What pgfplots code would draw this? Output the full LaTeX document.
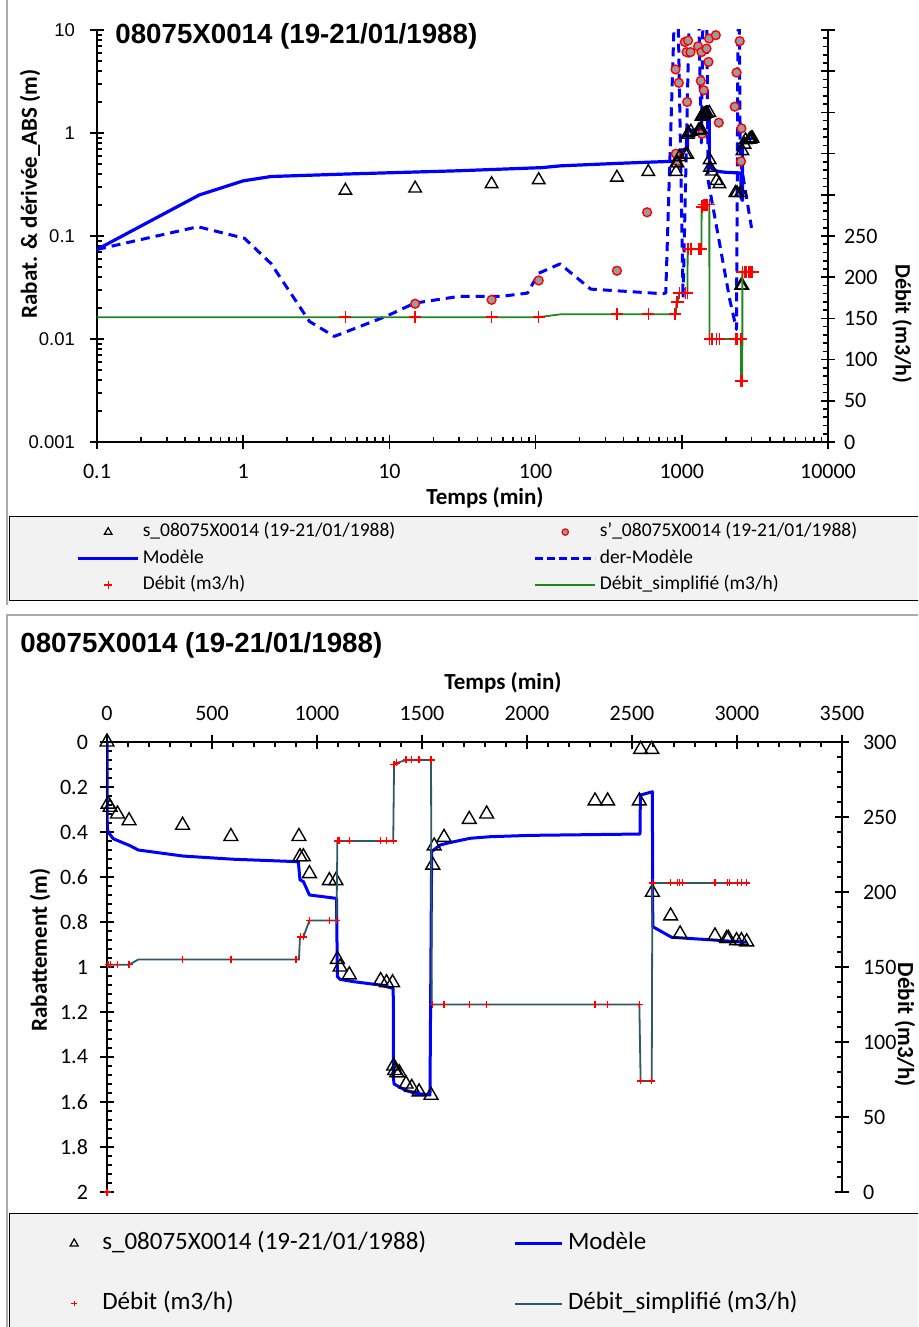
\documentclass[border=0pt]{standalone}
\usepackage{pgfplots}
\pgfplotsset{compat=1.18}
\usepackage{pgfplotstable}
\usepackage{fontspec}
\setmainfont{Carlito}
\newfontfamily\arialfont{Liberation Sans}

\definecolor{flowgreen}{RGB}{30,135,30}
\definecolor{flowteal}{RGB}{49,89,99}
\definecolor{legfill}{RGB}{242,242,242}
\definecolor{framegray}{RGB}{170,170,170}
\definecolor{circfill}{RGB}{155,155,155}

% observed drawdown s
\pgfplotstableread{
t s
5 0.276
15 0.29
50 0.32
105 0.35
360 0.37
590 0.42
914 0.42
919 0.51
935 0.51
964 0.585
1059 0.616
1090 0.616
1097 0.966
1110 1.0
1154 1.035
1303 1.06
1331 1.07
1360 1.07
1365 1.44
1370 1.46
1380 1.47
1392 1.47
1424 1.52
1451 1.535
1486 1.555
1543 1.57
1551 0.547
1558 0.462
1605 0.424
1725 0.344
1808 0.32
2324 0.262
2384 0.262
2535 0.262
2541 0.033
2594 0.033
2597 0.668
2684 0.773
2729 0.853
2895 0.862
2951 0.873
2959 0.873
2998 0.883
3021 0.883
3046 0.888
}\obsS

% observed derivative s'
\pgfplotstableread{
t d
15 0.022
50 0.024
105 0.037
360 0.046
579 0.17
906 4.14
910 0.63
929 0.53
954 3.07
1048 7.65
1077 6.1
1087 2.0
1104 7.9
1147 6.1
1292 6.94
1348 3.21
1363 6.1
1376 0.98
1414 2.6
1476 6.6
1522 4.9
1537 8.26
1708 8.9
1790 1.26
2300 1.8
2367 3.86
2490 7.8
2542 0.53
2557 1.11
}\obsD

% model
\pgfplotstableread{
t s
0.1 0.074
0.5 0.25
1.0 0.343
1.55 0.378
5.2 0.40
30 0.43
110 0.461
149 0.48
363 0.507
601 0.521
911 0.532
919 0.613
935 0.62
964 0.68
1093 0.695
1097 1.043
1110 1.055
1173 1.065
1300 1.08
1363 1.095
1364 1.495
1367 1.52
1419 1.547
1467 1.561
1538 1.569
1546 0.487
1586 0.458
1633 0.447
1729 0.428
1824 0.421
2014 0.415
2538 0.409
2540 0.236
2597 0.221
2599 0.821
2689 0.868
2887 0.88
3046 0.89
}\model

% model derivative
\pgfplotstableread{
t d
0.1 0.074
0.49 0.123
1.02 0.095
1.55 0.054
2.84 0.0148
4.2 0.0106
9.5 0.0166
14.9 0.0223
29.8 0.0259
57.7 0.0259
88 0.0279
105 0.0435
147 0.0536
238 0.0305
746 0.0275
777 0.028
896 20
940 20
1020 0.025
1130 20
1300 20
1360 0.8
1400 20
1480 20
1512 0.35
2130 0.024
2366 0.0124
2430 20
2470 20
2510 0.55
3000 0.12
}\derModel

% flow rate (measured)
\pgfplotstableread{
t q
5 151.5
15 151.5
50 151.5
105 151.5
360 155
590 155
900 155
920 170
935 170
964 181
1059 181
1093 181
1097 234
1105 234
1154 234
1303 234
1331 234
1363 234
1365 285
1370 285
1380 286
1424 288
1451 288
1486 288
1543 288
1551 125
1605 125
1725 125
1808 125
2324 125
2384 125
2535 125
2541 74
2594 74
2597 206
2684 206
2717 206
2728 206
2740 206
2895 206
2954 206
2964 206
3002 206
3021 206
3046 206
}\debit

% simplified flow rate
\pgfplotstableread{
t q
0.1 151.5
105 151.5
149 155
914 155
919 170
935 170
964 181
1093 181
1097 234
1363 234
1367 285
1380 286
1424 288
1543 288
1546 125
2535 125
2541 74
2594 74
2597 206
3046 206
}\debitSimp

\pgfplotsset{
  myticks/.style={
    tick align=center,
    major tick length=7pt,
    minor tick length=2.5pt,
    major tick style={black, line width=0.8pt},
    minor tick style={black, line width=0.8pt},
  },
  mylegimg/.style={
    legend image code/.code={\path (0pt,0pt) (2*#1,0pt);\draw[mark repeat=2,mark phase=2,##1] plot coordinates {(0pt,0pt) (#1,0pt) (2*#1,0pt)};}
  },
}

\begin{document}
\begin{tikzpicture}
\path[use as bounding box, fill=white] (0,0) rectangle (459pt,663.5pt);
\clip (0,0) rectangle (459pt,663.5pt);
\draw[framegray, line width=0.8pt] (3.5pt,663.5pt) -- (3.5pt,361pt);
\draw[framegray, line width=0.8pt] (459pt,356pt) -- (3.5pt,356pt) -- (3.5pt,0pt);

%================ TOP CHART =================
\begin{axis}[
  myticks,
  at={(48.5pt,442.5pt)}, anchor=south west,
  scale only axis, width=365.5pt, height=206pt,
  xmode=log, ymode=log,
  xmin=0.1, xmax=10000, ymin=0.001, ymax=10,
  axis x line=bottom, axis y line=left,
  axis line style={-, line width=0.8pt, black},
  xtick={0.1,1,10,100,1000,10000},
  xticklabels={0.1,1,10,100,1000,10000},
  ytick={0.001,0.01,0.1,1,10},
  yticklabels={0.001,0.01,0.1,1,10},
  minor x tick style={yshift=1.25pt},
  minor y tick style={xshift=1.25pt},
  xticklabel style={font=\fontsize{11}{13}\selectfont, yshift=-4pt},
  yticklabel style={font=\arialfont\fontsize{9.25}{11}\selectfont, xshift=-4pt},
  clip mode=individual,
]
\addplot[blue, line width=1.6pt, line join=round, forget plot] table[x=t,y=s] {\model};
\addplot[blue, line width=1.5pt, dash pattern=on 4.5pt off 3pt, line join=round, forget plot] table[x=t,y=d] {\derModel};
\addplot[only marks, mark=*, mark size=2.2pt, mark options={draw=red, fill=circfill, line width=0.7pt}, forget plot] table[x=t,y=d] {\obsD};
\addplot[only marks, mark=triangle, mark size=3.6pt, mark options={draw=black, line width=0.7pt}, forget plot] table[x=t,y=s] {\obsS};
\end{axis}

\begin{axis}[
  myticks, mylegimg=15pt,
  at={(48.5pt,442.5pt)}, anchor=south west,
  scale only axis, width=365.5pt, height=206pt,
  xmode=log, xmin=0.1, xmax=10000, ymin=0, ymax=500,
  axis x line=none, axis y line=right,
  axis line style={-, line width=0.8pt, black},
  ytick={0,50,100,150,200,250,300,350,400,450,500},
  yticklabels={0,50,100,150,200,250,{},{},{},{},{}},
  minor y tick num=4,
  minor y tick style={xshift=-1.25pt},
  yticklabel style={font=\fontsize{11}{13}\selectfont, xshift=1pt},
  clip mode=individual,
  legend columns=2,
  legend cell align=left,
  legend style={
    at={(-0.1204,-0.1796)}, anchor=north west,
    draw=black, line width=0.6pt, fill=legfill,
    inner xsep=33.5pt, inner ysep=3pt,
    font=\fontsize{9.75}{11}\selectfont,
    nodes={inner sep=0pt, text height=7pt, text depth=2.5pt},
    row sep=3.75pt,
    /tikz/every odd column/.append style={column sep=1.5pt},
    /tikz/every even column/.append style={column sep=0pt},
  },
]
\addplot[flowgreen, line width=0.9pt, forget plot] table[x=t,y=q] {\debitSimp};
\addplot[only marks, mark=+, mark size=3pt, mark options={red, line width=0.8pt}, forget plot] table[x=t,y=q] {\debit};
\addlegendimage{only marks, mark=triangle, mark size=2.2pt, mark options={black, line width=0.6pt}}
\addlegendentry{\makebox[195.5pt][l]{s\_08075X0014 (19-21/01/1988)}}
\addlegendimage{only marks, mark=*, mark size=1.6pt, mark options={draw=red, fill=circfill, line width=0.6pt}}
\addlegendentry{\makebox[170pt][l]{s'\_08075X0014 (19-21/01/1988)}}
\addlegendimage{blue, line width=1.6pt}
\addlegendentry{Modèle}
\addlegendimage{blue, line width=1.5pt, dash pattern=on 4pt off 2pt}
\addlegendentry{der-Modèle}
\addlegendimage{only marks, mark=+, mark size=2pt, mark options={red, line width=0.6pt}}
\addlegendentry{Débit (m3/h)}
\addlegendimage{flowgreen, line width=0.9pt}
\addlegendentry{Débit\_simplifié (m3/h)}
\end{axis}

\node[anchor=base west, inner sep=0pt, font=\arialfont\bfseries\fontsize{13.85}{16}\selectfont] at (57.5pt,641.5pt) {08075X0014 (19-21/01/1988)};
\node[rotate=90, font=\bfseries\fontsize{11.5}{13}\selectfont] at (15pt,566.5pt) {Rabat. \& dérivée\_ABS (m)};
\node[rotate=-90, font=\bfseries\fontsize{11}{13}\selectfont] at (451pt,501.5pt) {Débit (m3/h)};
\node[font=\bfseries\fontsize{11.5}{13}\selectfont] at (242.5pt,414.5pt) {Temps (min)};

%================ BOTTOM CHART =================
\begin{axis}[
  myticks,
  at={(53.5pt,67.5pt)}, anchor=south west,
  scale only axis, width=367.5pt, height=225pt,
  xmin=0, xmax=3500, ymin=0, ymax=2, y dir=reverse,
  axis x line=top, axis y line=left,
  axis line style={-, line width=0.8pt, black},
  xtick={0,500,1000,1500,2000,2500,3000,3500},
  xticklabels={0,500,1000,1500,2000,2500,3000,3500},
  minor x tick num=4,
  ytick={0,0.2,0.4,0.6,0.8,1,1.2,1.4,1.6,1.8,2},
  yticklabels={0,0.2,0.4,0.6,0.8,1,1.2,1.4,1.6,1.8,2},
  minor y tick num=4,
  minor x tick style={yshift=-1.25pt},
  minor y tick style={xshift=1.25pt},
  xticklabel style={font=\fontsize{11}{13}\selectfont, yshift=3.5pt},
  yticklabel style={font=\fontsize{11}{13}\selectfont, xshift=-2.5pt},
  clip mode=individual,
]
\addplot[blue, line width=1.5pt, line join=round, forget plot] coordinates {(0,0) (0.1,0.074)};
\addplot[blue, line width=1.5pt, line join=round, forget plot] table[x=t,y=s] {\model};
\addplot[only marks, mark=triangle, mark size=4pt, mark options={draw=black, line width=0.7pt}, forget plot] table[x=t,y=s] {\obsS};
\addplot[only marks, mark=triangle, mark size=4pt, mark options={draw=black, line width=0.7pt}, forget plot] coordinates {(0,0)};
\end{axis}

\begin{axis}[
  myticks, mylegimg=11.75pt,
  at={(53.5pt,67.5pt)}, anchor=south west,
  scale only axis, width=367.5pt, height=225pt,
  xmin=0, xmax=3500, ymin=0, ymax=300,
  axis x line=none, axis y line=right,
  axis line style={-, line width=0.8pt, black},
  ytick={0,50,100,150,200,250,300},
  yticklabels={0,50,100,150,200,250,300},
  minor y tick num=4,
  minor y tick style={xshift=-1.25pt},
  yticklabel style={font=\fontsize{11}{13}\selectfont, xshift=3.5pt},
  clip mode=individual,
  legend columns=2,
  legend cell align=left,
  legend style={
    at={(-0.13333,-0.04667)}, anchor=north west,
    draw=black, line width=0.6pt, fill=legfill,
    inner xsep=20.25pt, inner ysep=9pt,
    font=\fontsize{12.5}{14}\selectfont,
    nodes={inner sep=0pt, text height=9pt, text depth=3pt},
    row sep=18pt,
    /tikz/every odd column/.append style={column sep=2pt},
    /tikz/every even column/.append style={column sep=0pt},
  },
]
\addplot[flowteal, line width=0.9pt, forget plot] table[x=t,y=q] {\debitSimp};
\addplot[only marks, mark=+, mark size=1.75pt, mark options={red, line width=0.6pt}, forget plot] table[x=t,y=q] {\debit};
\addplot[only marks, mark=+, mark size=1.75pt, mark options={red, line width=0.6pt}, forget plot] coordinates {(0,0)};
\addlegendimage{only marks, mark=triangle, mark size=2.3pt, mark options={black, line width=0.6pt}}
\addlegendentry{\makebox[205.75pt][l]{s\_08075X0014 (19-21/01/1988)}}
\addlegendimage{blue, line width=1.6pt}
\addlegendentry{\makebox[200pt][l]{Modèle}}
\addlegendimage{only marks, mark=+, mark size=1.4pt, mark options={red, line width=0.6pt}}
\addlegendentry{Débit (m3/h)}
\addlegendimage{flowteal, line width=1pt}
\addlegendentry{Débit\_simplifié (m3/h)}
\end{axis}

\node[anchor=base west, inner sep=0pt, font=\arialfont\bfseries\fontsize{13.85}{16}\selectfont] at (10pt,337pt) {08075X0014 (19-21/01/1988)};
\node[font=\bfseries\fontsize{11.5}{13}\selectfont] at (251.5pt,322pt) {Temps (min)};
\node[rotate=90, font=\bfseries\fontsize{11.5}{13}\selectfont] at (20pt,188.5pt) {Rabattement (m)};
\node[rotate=-90, inner sep=0pt, font=\bfseries\fontsize{11.5}{13}\selectfont] at (452.5pt,151pt) {Débit (m3/h)};
\end{tikzpicture}
\end{document}
